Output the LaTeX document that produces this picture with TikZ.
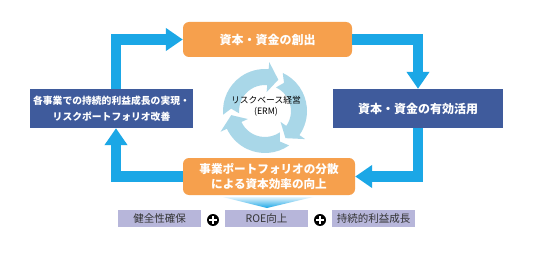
\documentclass[tikz,border=0pt]{standalone}
\usepackage{fontspec}
\setmainfont{Noto Sans CJK JP}
\usetikzlibrary{arrows.meta}
\definecolor{org}{HTML}{F6A04D}
\definecolor{nav}{HTML}{3F5B9C}
\definecolor{cyn}{HTML}{1BA7E6}
\definecolor{lav}{HTML}{B7B6DA}
\definecolor{ringc}{HTML}{A9D7E8}
\definecolor{txt}{HTML}{333333}
\newcommand\rseg[2]{\fill[ringc] (#1:42) arc[start angle=#1,end angle=#2,radius=42] -- (#2:49) -- ({#2+18}:34) -- (#2:19) -- (#2:26) arc[start angle=#2,end angle=#1,radius=26] -- ({#1+9}:34) -- cycle;}
\begin{document}
\begin{tikzpicture}[x=1pt,y=-1pt,
 obox/.style={fill=org,rounded corners=6pt,text=white,align=center,inner sep=0pt},
 bbox/.style={fill=nav,text=white,align=center,inner sep=0pt},
 sbox/.style={fill=lav,text=txt,minimum width=83pt,minimum height=17pt,inner sep=0pt,font=\fontsize{10.5}{12}\selectfont},
 flow/.style={draw=cyn,line width=10.5pt,line join=miter,-{Triangle[width=22pt,length=17pt]}},
 plusc/.style={circle,fill=black,minimum size=12pt,inner sep=0pt}
]
\useasboundingbox[fill=white] (0,0) rectangle (536,254);

% ring
\begin{scope}[shift={(265,111)}]
\rseg{175}{275}
\rseg{295}{395}
\rseg{55}{155}
\end{scope}
\node[text=black,align=center,font=\fontsize{8.8}{10.5}\selectfont] (erm) at (266,106) {リスクベース経営\\(ERM)};

% main boxes
\node[obox,minimum width=169pt,minimum height=35pt,font=\bfseries\fontsize{12}{14}\selectfont] (top) at (267.5,39.5) {資本・資金の創出};
\node[bbox,minimum width=170pt,minimum height=39pt,font=\bfseries\fontsize{12}{14}\selectfont] (right) at (418,108.5) {資本・資金の有効活用};
\node[bbox,minimum width=163pt,minimum height=39pt,font=\bfseries\fontsize{9.8}{15.5}\selectfont] (left) at (111.5,108.5) {各事業での持続的利益成長の実現・\\リスクポートフォリオ改善};
\node[obox,minimum width=172pt,minimum height=37pt,font=\bfseries\fontsize{11.6}{14.5}\selectfont] (bottom) at (269,176.5) {事業ポートフォリオの分散\\による資本効率の向上};

% flow arrows
\draw[flow] ([xshift=4.5pt]left.north) |- (top.west);
\draw[flow] (top.east) -| (right.north);
\draw[flow] (right.south) |- (bottom.east);
\draw[flow] (bottom.west) -| ([xshift=4.5pt]left.south);

% fan
\shade[top color=cyn!12, bottom color=cyn] (223,197) -- (313,197) -- (267,208) -- cycle;

% strip
\node[sbox] (s1) at (159.5,218.5) {健全性確保};
\node[sbox] (s2) at (266.5,218.5) {ROE向上};
\node[sbox] (s3) at (373.5,218.5) {持続的利益成長};
\node[plusc] (p1) at (213,220) {};
\node[plusc] (p2) at (320,220) {};
\foreach \p in {p1,p2}{
  \draw[white,line width=2pt] ([xshift=-3.6pt]\p.center) -- ([xshift=3.6pt]\p.center);
  \draw[white,line width=2pt] ([yshift=-3.6pt]\p.center) -- ([yshift=3.6pt]\p.center);
}
\end{tikzpicture}
\end{document}
